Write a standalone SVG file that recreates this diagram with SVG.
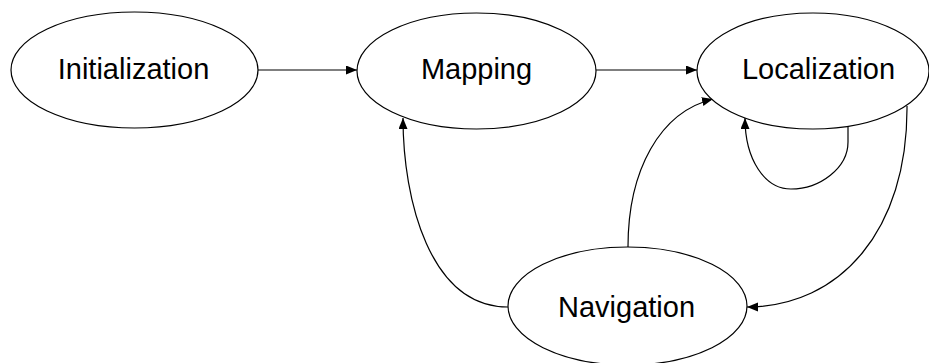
<svg xmlns="http://www.w3.org/2000/svg" width="929" height="363" viewBox="0 0 929 363">
  <style>
    .state ellipse { fill: #ffffff; stroke: #000000; stroke-width: 1.2; }
    .state text { font-family: "Liberation Sans", Arial, sans-serif; font-size: 29px; fill: #000000; text-anchor: middle; }
    .edge { fill: none; stroke: #000000; stroke-width: 1.2; marker-end: url(#arrow); }
  </style>
  <defs>
    <marker id="arrow" markerUnits="userSpaceOnUse" markerWidth="12" markerHeight="10" refX="11" refY="4.5" orient="auto">
      <path d="M0,0 L11,4.5 L0,9 z" fill="#000000"/>
    </marker>
  </defs>
  <rect width="929" height="363" fill="#ffffff"/>

  <g id="connectors">
    <path class="edge" d="M258,70 L357,70"/>
    <path class="edge" d="M596,70 L697,70"/>
    <path class="edge" d="M508,307 C430,307 403,200 403,118"/>
    <path class="edge" d="M628,247 C628,170 660,112 713,99"/>
    <path class="edge" d="M848,127 L848,142 C848,168 820,189 791,189 C765,189 745,160 745,118"/>
    <path class="edge" d="M907,106 C908,230 840,307 747,307"/>
  </g>

  <g id="initialization" class="state">
    <ellipse cx="134.5" cy="70" rx="123.5" ry="58"/>
    <text x="133.5" y="79">Initialization</text>
  </g>
  <g id="mapping" class="state">
    <ellipse cx="476.5" cy="71" rx="119.5" ry="58"/>
    <text x="476.5" y="79">Mapping</text>
  </g>
  <g id="localization" class="state">
    <ellipse cx="813" cy="71" rx="116" ry="58"/>
    <text x="818.5" y="79">Localization</text>
  </g>
  <g id="navigation" class="state">
    <ellipse cx="627.5" cy="306" rx="119.5" ry="59"/>
    <text x="626.5" y="317">Navigation</text>
  </g>
</svg>
